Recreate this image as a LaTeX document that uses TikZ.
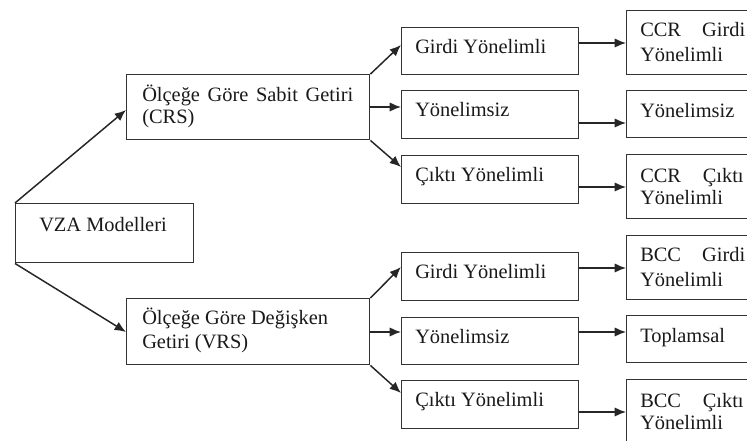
\documentclass[tikz,border=0pt]{standalone}
\usepackage{fontspec}
\setmainfont{Liberation Serif}
\usetikzlibrary{arrows.meta,calc}
\tikzset{
  bx/.style 2 args={draw=black!80, line width=1.1pt, rectangle, inner sep=0pt, anchor=north west,
    minimum width=#1*0.75pt, minimum height=#2*0.75pt},
  txt/.style={inner sep=0pt, anchor=base west, text=black!90, font=\fontsize{15.3pt}{18pt}\selectfont},
  conn/.style={draw=black!85, line width=1.1pt, -{Latex[length=8.5pt,width=7pt]}}
}
\begin{document}
\begin{tikzpicture}[x=0.75pt,y=-0.75pt]
\clip (0,0) rectangle (747,441);
\fill[white] (0,0) rectangle (747,441);
% boxes
\node[bx={178}{59}] (vza) at (15,203) {};
\node[bx={243}{65}] (crs) at (126,74) {};
\node[bx={243}{66}] (vrs) at (126,298) {};
\node[bx={177}{47}] (g1) at (401,27) {};
\node[bx={177}{48}] (y1) at (401,90) {};
\node[bx={177}{48}] (c1) at (401,155) {};
\node[bx={177}{48}] (g2) at (401,252) {};
\node[bx={177}{47}] (y2) at (401,317) {};
\node[bx={177}{48}] (c2) at (401,380) {};
\node[bx={150}{64}] (r1) at (626,10) {};
\node[bx={150}{47}] (r2) at (626,90) {};
\node[bx={150}{64}] (r3) at (626,154) {};
\node[bx={150}{64}] (r4) at (626,235) {};
\node[bx={150}{47}] (r5) at (626,315) {};
\node[bx={150}{80}] (r6) at (626,379) {};
% texts
\node[txt] (tvza) at ($(vza.north west)+(24,29)$) {VZA Modelleri};
\node[txt] (tcrs1) at ($(crs.north west)+(16,28)$) {\makebox[158.25pt][s]{Ölçeğe Göre Sabit Getiri}};
\node[txt] (tcrs2) at ($(crs.north west)+(16,50)$) {(CRS)};
\node[txt] (tvrs1) at ($(vrs.north west)+(16,27)$) {Ölçeğe Göre Değişken};
\node[txt] (tvrs2) at ($(vrs.north west)+(16,51)$) {Getiri (VRS)};
\node[txt] (tg1) at ($(g1.north west)+(14,27)$) {Girdi Yönelimli};
\node[txt] (ty1) at ($(y1.north west)+(14,27)$) {Yönelimsiz};
\node[txt] (tc1) at ($(c1.north west)+(14,27)$) {Çıktı Yönelimli};
\node[txt] (tg2) at ($(g2.north west)+(14,27)$) {Girdi Yönelimli};
\node[txt] (ty2) at ($(y2.north west)+(14,27)$) {Yönelimsiz};
\node[txt] (tc2) at ($(c2.north west)+(14,27)$) {Çıktı Yönelimli};
\node[txt] (tr1a) at ($(r1.north west)+(14,27)$) {\makebox[78.75pt][s]{CCR Girdi}};
\node[txt] (tr1b) at ($(r1.north west)+(14,52)$) {Yönelimli};
\node[txt] (tr2) at ($(r2.north west)+(14,28)$) {Yönelimsiz};
\node[txt] (tr3a) at ($(r3.north west)+(14,29)$) {\makebox[77.5pt][s]{CCR Çıktı}};
\node[txt] (tr3b) at ($(r3.north west)+(14,51)$) {Yönelimli};
\node[txt] (tr4a) at ($(r4.north west)+(14,27)$) {\makebox[78.75pt][s]{BCC Girdi}};
\node[txt] (tr4b) at ($(r4.north west)+(14,52)$) {Yönelimli};
\node[txt] (tr5) at ($(r5.north west)+(14,28)$) {Toplamsal};
\node[txt] (tr6a) at ($(r6.north west)+(14,29)$) {\makebox[77.5pt][s]{BCC Çıktı}};
\node[txt] (tr6b) at ($(r6.north west)+(14,51)$) {Yönelimli};
% connectors from VZA
\draw[conn] (vza.north west) -- ($(crs.north west)+(0,36)$);
\draw[conn] (vza.south west) -- ($(vrs.north west)+(0,34)$);
% CRS branches
\draw[conn] (crs.north east) -- ($(g1.north west)+(0,18)$);
\draw[conn] ($(crs.north east)+(0,33)$) -- ($(y1.north west)+(0,17)$);
\draw[conn] (crs.south east) -- ($(c1.north west)+(0,12)$);
% VRS branches
\draw[conn] (vrs.north east) -- ($(g2.north west)+(0,15)$);
\draw[conn] ($(vrs.north east)+(0,34)$) -- ($(y2.north west)+(0,15)$);
\draw[conn] (vrs.south east) -- ($(c2.north west)+(0,13)$);
% to right column
\draw[conn] ($(g1.north east)+(0,16)$) -- ($(r1.north west)+(0,33)$);
\draw[conn] ($(y1.north east)+(0,33)$) -- ($(r2.north west)+(0,33)$);
\draw[conn] ($(c1.north east)+(0,32)$) -- ($(r3.north west)+(0,33)$);
\draw[conn] ($(g2.north east)+(0,16)$) -- ($(r4.north west)+(0,33)$);
\draw[conn] ($(y2.north east)+(0,15)$) -- ($(r5.north west)+(0,17)$);
\draw[conn] ($(c2.north east)+(0,32)$) -- ($(r6.north west)+(0,33)$);
\end{tikzpicture}
\end{document}
